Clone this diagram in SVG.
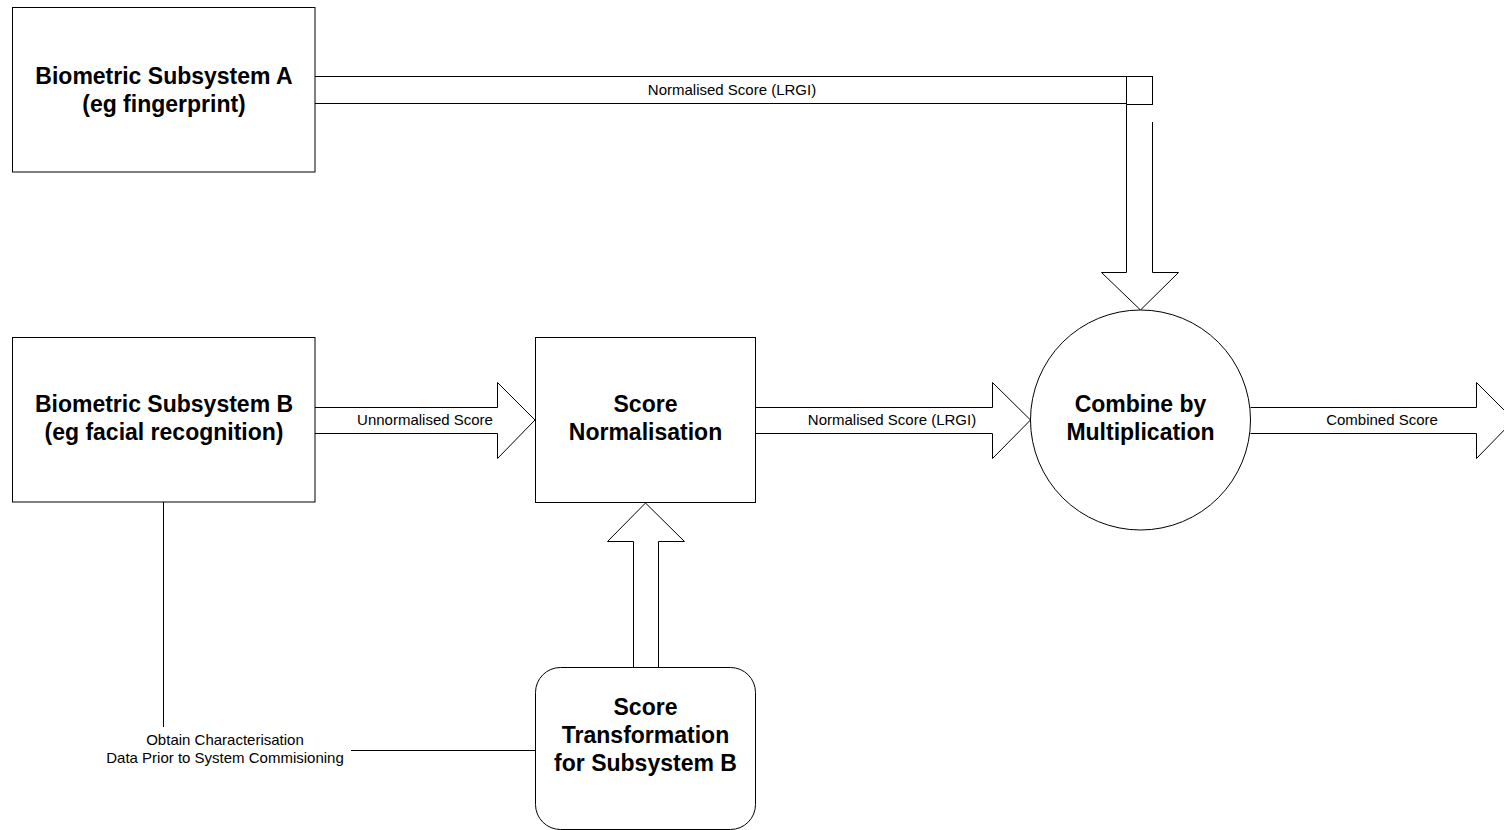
<svg xmlns="http://www.w3.org/2000/svg" width="1504" height="830" viewBox="0 0 1504 830">
<style>
.box{fill:#fff;stroke:#000;stroke-width:1}
.ln{fill:none;stroke:#000;stroke-width:1}
.arr{fill:#fff;stroke:#000;stroke-width:1;stroke-linejoin:miter}
.t{font-family:"Liberation Sans",Arial,sans-serif;font-size:23px;font-weight:bold;text-anchor:middle;fill:#000}
.s{font-family:"Liberation Sans",Arial,sans-serif;font-size:15px;text-anchor:middle;fill:#000}
</style>
<rect width="1504" height="830" fill="#fff"/>
<g id="connectors">
<g id="conn-a">
<path class="ln" d="M315,76.5H1153M315,103.5H1127"/>
<rect class="box" x="1126.5" y="76.5" width="26" height="28"/>
<path class="arr" d="M1126.5,104.5V272.5H1101.5L1140.5,310L1178.5,272.5H1152.5V122"/>
<text class="s" x="732" y="95">Normalised Score (LRGI)</text>
</g>
<g id="conn-unnorm">
<path class="arr" d="M315,407.5H497.5V382.5L535,420L497.5,458.5V433.5H315"/>
<text class="s" x="425" y="425">Unnormalised Score</text>
</g>
<g id="conn-norm">
<path class="arr" d="M756,407.5H992.5V382.5L1030.5,420L992.5,458.5V433.5H756"/>
<text class="s" x="892" y="425">Normalised Score (LRGI)</text>
</g>
<g id="conn-comb">
<path class="arr" d="M1250.5,407.5H1476.5V382.5L1514,420L1476.5,458.5V433.5H1250.5"/>
<text class="s" x="1382" y="425">Combined Score</text>
</g>
<g id="conn-up">
<path class="arr" d="M633.5,668V541.5H607.5L645.5,503L684.5,541.5H658.5V668"/>
</g>
<g id="conn-char">
<path class="ln" d="M163.5,502V727M351,750.5H535"/>
<text class="s" x="225" y="745">Obtain Characterisation</text>
<text class="s" x="225" y="763">Data Prior to System Commisioning</text>
</g>
</g>
<g id="node-a">
<rect class="box" x="12.5" y="7.5" width="302.5" height="164.5"/>
<text class="t" x="164" y="84">Biometric Subsystem A</text>
<text class="t" x="164" y="112">(eg fingerprint)</text>
</g>
<g id="node-b">
<rect class="box" x="12.5" y="337.5" width="302.5" height="164.5"/>
<text class="t" x="164" y="412">Biometric Subsystem B</text>
<text class="t" x="164" y="440">(eg facial recognition)</text>
</g>
<g id="node-norm">
<rect class="box" x="535.5" y="337.5" width="220" height="165"/>
<text class="t" x="645.5" y="412">Score</text>
<text class="t" x="645.5" y="440">Normalisation</text>
</g>
<g id="node-comb">
<circle class="box" cx="1140.5" cy="420" r="110"/>
<text class="t" x="1140.5" y="412">Combine by</text>
<text class="t" x="1140.5" y="440">Multiplication</text>
</g>
<g id="node-trans">
<rect class="box" x="535.5" y="667.5" width="220" height="162" rx="25" ry="25"/>
<text class="t" x="645.5" y="715">Score</text>
<text class="t" x="645.5" y="743">Transformation</text>
<text class="t" x="645.5" y="771">for Subsystem B</text>
</g>
</svg>
